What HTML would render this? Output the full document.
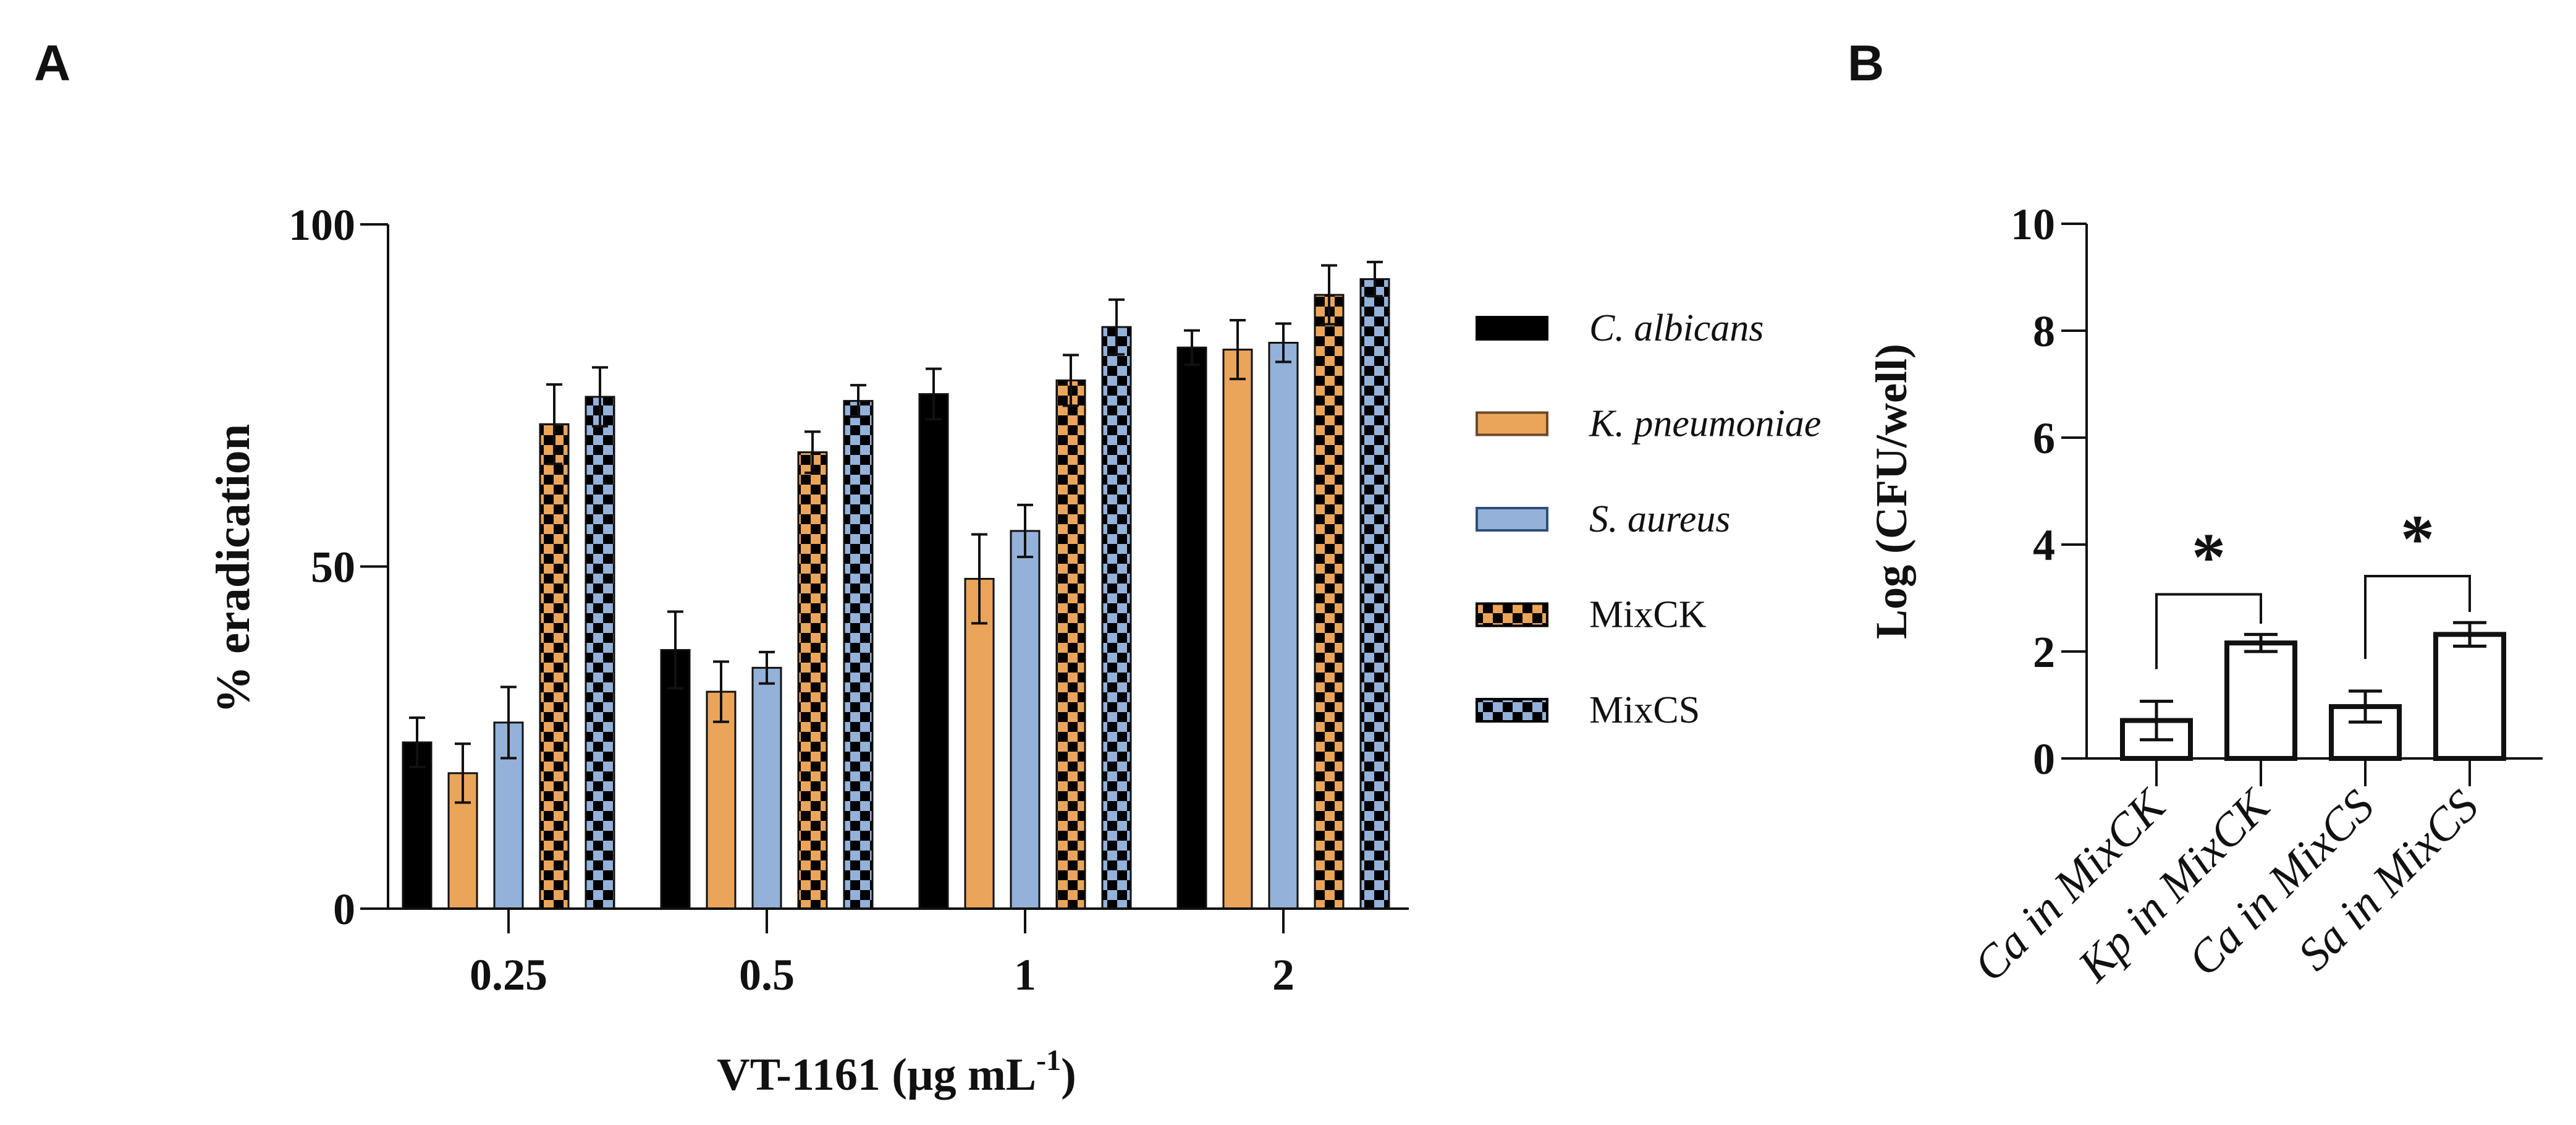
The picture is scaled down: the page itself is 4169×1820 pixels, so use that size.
<!DOCTYPE html>
<html><head><meta charset="utf-8"><style>
html,body{margin:0;padding:0;background:#fff}
svg{display:block}
text{font-family:"Liberation Serif",serif;fill:#111}
</style></head><body>
<svg id="fig" width="4169" height="1820" viewBox="0 0 4169 1820" xmlns="http://www.w3.org/2000/svg">
<defs>
<pattern id="chkO" width="32" height="32" patternUnits="userSpaceOnUse"><rect width="32" height="32" fill="#000"/><rect x="0" y="0" width="16" height="16" fill="#eba55b"/><rect x="16" y="16" width="16" height="16" fill="#eba55b"/></pattern>
<pattern id="chkB" width="32" height="32" patternUnits="userSpaceOnUse"><rect width="32" height="32" fill="#000"/><rect x="0" y="0" width="16" height="16" fill="#94b1d9"/><rect x="16" y="16" width="16" height="16" fill="#94b1d9"/></pattern>
</defs>
<text x="55" y="130" font-weight="bold" font-size="82" style="font-family:'Liberation Sans',sans-serif">A</text>
<text x="2990" y="130" font-weight="bold" font-size="82" style="font-family:'Liberation Sans',sans-serif">B</text>
<g id="chartA"></g>
<g id="legend"></g>
<g id="chartB"></g>
</svg>
<script>
const NS="http://www.w3.org/2000/svg";
function mk(parent,tag,attrs,txt){const e=document.createElementNS(NS,tag);for(const k in attrs)e.setAttribute(k,attrs[k]);if(txt!==undefined)e.textContent=txt;parent.appendChild(e);return e;}

// ---- Panel A data ----
const concLabels=["0.25","0.5","1","2"];
const seriesNames=["C. albicans","K. pneumoniae","S. aureus","MixCK","MixCS"];
const calbicans=[24.3,37.8,75.2,82.0];
const calbicansErr=[3.6,5.6,3.7,2.5];
const kpneumoniae=[19.8,31.7,48.2,81.7];
const kpneumoniaeErr=[4.3,4.4,6.5,4.3];
const saureus=[27.2,35.2,55.2,82.7];
const saureusErr=[5.2,2.3,3.8,2.8];
const mixCK=[70.8,66.7,77.2,89.7];
const mixCKErr=[5.8,3.0,3.7,4.3];
const mixCS=[74.8,74.2,85.0,92.0];
const mixCSErr=[4.3,2.3,4.0,2.5];
const yTicksA=[0,50,100];

// ---- Panel B data ----
const catB=["Ca in MixCK","Kp in MixCK","Ca in MixCS","Sa in MixCS"];
const valB=[0.71,2.16,0.97,2.32];
const errB=[0.36,0.16,0.29,0.22];
const yTicksB=[0,2,4,6,8,10];
const sigPairs=[[0,1],[2,3]];

// Panel A axes
const A={x0:628,yBase:1470,yTop:363,xStart:583,xEnd:2280,g0:823,gStep:418,pitch:74,bw:46};
const yA=v=>A.yBase-(v/100)*(A.yBase-A.yTop);
const xGroup=i=>A.g0+i*A.gStep;
const gA=document.getElementById('chartA');
const fills=["#000","#eba55b","#94b1d9","url(#chkO)","url(#chkB)"];
const vals=[calbicans,kpneumoniae,saureus,mixCK,mixCS];
const errs=[calbicansErr,kpneumoniaeErr,saureusErr,mixCKErr,mixCSErr];
for(let s=0;s<5;s++){for(let i=0;i<concLabels.length;i++){
  const cx=xGroup(i)+(s-2)*A.pitch, v=vals[s][i], e=errs[s][i];
  const r=mk(gA,'rect',{x:cx-A.bw/2,y:yA(v),width:A.bw,height:yA(0)-yA(v),fill:fills[s],stroke:"#111","stroke-width":3});
  
  
  const eb=mk(gA,'path',{d:`M${cx},${yA(v-e)}V${yA(v+e)}M${cx-13},${yA(v+e)}h26M${cx-13},${yA(v-e)}h26`,stroke:"#111","stroke-width":4,fill:"none"});
  
  
}}
mk(gA,'path',{d:`M${A.x0},${A.yTop}V${A.yBase}M${A.xStart},${A.yBase}H${A.xEnd}`,stroke:"#111","stroke-width":4,fill:"none"});
yTicksA.forEach(t=>{mk(gA,'line',{x1:A.xStart,x2:A.x0,y1:yA(t),y2:yA(t),stroke:"#111","stroke-width":4});
  const tl=mk(gA,'text',{x:A.xStart-8,y:yA(t)+25,"text-anchor":"end","font-size":72,"font-weight":"bold"},String(t));
  
  });
concLabels.forEach((c,i)=>{mk(gA,'line',{x1:xGroup(i),x2:xGroup(i),y1:A.yBase,y2:A.yBase+40,stroke:"#111","stroke-width":4});
  const tl=mk(gA,'text',{x:xGroup(i),y:1601,"text-anchor":"middle","font-size":72,"font-weight":"bold"},c);
  
  });
const ya=mk(gA,'text',{x:0,y:0,transform:"translate(403,920) rotate(-90)","text-anchor":"middle","font-size":77,"font-weight":"bold"},"% eradication");


const xa=mk(gA,'text',{x:1451,y:1763,"text-anchor":"middle","font-size":74,"font-weight":"bold"});


xa.innerHTML='VT-1161 (µg mL<tspan dy="-32" font-size="48">-1</tspan><tspan dy="32">)</tspan>';

// Legend
const gL=document.getElementById('legend');
const lfill=["#000","#eba55b","#94b1d9","url(#chkO)","url(#chkB)"];
const lstroke=["#000","#6a4a2a","#2f4f7a","#000","#000"];
seriesNames.forEach((n,i)=>{const cy=531+i*154.5;
  const sw=mk(gL,'rect',{x:2390,y:cy-18,width:114,height:36,fill:lfill[i],stroke:lstroke[i],"stroke-width":4});
  
  
  const t=mk(gL,'text',{x:2572,y:cy+20,"font-size":62,"font-style":i<3?"italic":"normal"},n);
  
  });

// Panel B
const B={x0:3377,yBase:1227,yTop:362,xStart:3336,xEnd:4115,c0:3490,step:169,bw:110};
const yB=v=>B.yBase-(v/10)*(B.yBase-B.yTop);
const xB=i=>B.c0+i*B.step;
const gB=document.getElementById('chartB');
valB.forEach((v,i)=>{const cx=xB(i);
  const r=mk(gB,'rect',{x:cx-B.bw/2,y:yB(v),width:B.bw,height:yB(0)-yB(v),fill:"#fff",stroke:"#111","stroke-width":8});
  
  
  const e=errB[i];
  const eb=mk(gB,'path',{d:`M${cx},${yB(v-e)}V${yB(v+e)}M${cx-27},${yB(v+e)}h54M${cx-27},${yB(v-e)}h54`,stroke:"#111","stroke-width":5,fill:"none"});
  
  });
mk(gB,'path',{d:`M${B.x0},${B.yTop}V${B.yBase}M${B.xStart},${B.yBase}H${B.xEnd}`,stroke:"#111","stroke-width":4,fill:"none"});
yTicksB.forEach(t=>{mk(gB,'line',{x1:B.xStart,x2:B.x0,y1:yB(t),y2:yB(t),stroke:"#111","stroke-width":4});
  const tl=mk(gB,'text',{x:B.xStart-10,y:yB(t)+25,"text-anchor":"end","font-size":72,"font-weight":"bold"},String(t));
  
  });
catB.forEach((c,i)=>{mk(gB,'line',{x1:xB(i),x2:xB(i),y1:B.yBase,y2:B.yBase+45,stroke:"#111","stroke-width":4});
  const tl=mk(gB,'text',{x:0,y:0,transform:`translate(${xB(i)+18},${B.yBase+82}) rotate(-45)`,"text-anchor":"end","font-size":75,"font-style":"italic"},c);
  
  });
sigPairs.forEach(([a,b],k)=>{
  const top=Math.max(valB[a]+errB[a],valB[b]+errB[b])+0.75+k*0.12;
  const p=mk(gB,'path',{d:`M${xB(a)},${yB(valB[a]+errB[a]+0.6)}V${yB(top)}H${xB(b)}V${yB(valB[b]+errB[b]+0.2)}`,stroke:"#111","stroke-width":4,fill:"none"});
  
  
  const s=mk(gB,'text',{x:(xB(a)+xB(b))/2,y:yB(top+0.85)+50,"text-anchor":"middle","font-size":110,"font-weight":"bold"},"*");
  
  });
const yb=mk(gB,'text',{x:0,y:0,transform:"translate(3085,795) rotate(-90)","text-anchor":"middle","font-size":72,"font-weight":"bold"},"Log (CFU/well)");


</script>
</body></html>
